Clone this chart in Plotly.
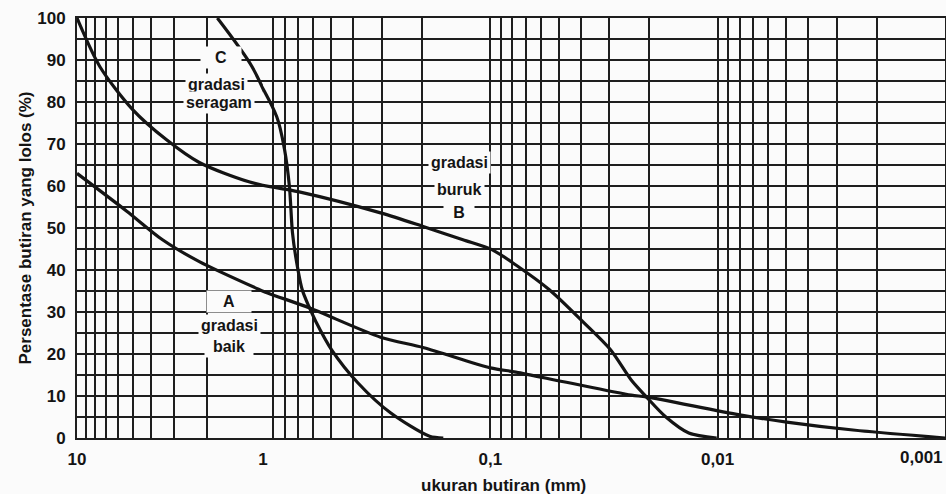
import math
import plotly.graph_objects as go

# Grain-size distribution curves: particle size (mm) vs. percent passing
size_A = [10, 5.4, 3.47, 2.20, 0.961, 0.627, 0.304, 0.196, 0.1, 0.0772, 0.0476,
          0.024, 0.0206, 0.008, 0.00497, 0.00254, 0.001]
pass_A = [63, 54, 47.2, 42, 34.6, 31, 24, 21.5, 16.7, 15.7, 13.4, 10.2, 9.8,
          5.5, 3.8, 1.9, 0]

size_B = [10, 7.53, 5.02, 3.30, 2.20, 1.19, 0.693, 0.304, 0.196, 0.132, 0.098,
          0.0772, 0.055, 0.0387, 0.0296, 0.024, 0.0206, 0.0169, 0.0134, 0.0101]
pass_B = [100, 88.4, 78.2, 71, 65.6, 61, 58.6, 53.6, 50.3, 47.2, 44.8, 41.2,
          35.3, 27.4, 21, 13.8, 9.8, 5, 1.2, 0]

size_C = [1.76, 1.145, 0.87, 0.804, 0.765, 0.742, 0.714, 0.672, 0.627, 0.585,
          0.499, 0.382, 0.275, 0.185, 0.161]
pass_C = [100, 88.4, 76.5, 68.7, 59.8, 48.9, 42.4, 35.3, 31.2, 27.7, 21, 13.1,
          6, 0.4, 0]

# Axis ticks
left_ticks = [10, 9, 8, 7, 6, 5, 4, 3, 2, 1]
left_labels = ["10"] + [""] * 9
right_ticks = ([1, 0.9, 0.8, 0.7, 0.6, 0.5, 0.4, 0.3, 0.2]
               + [0.1, 0.09, 0.08, 0.07, 0.06, 0.05, 0.04, 0.03, 0.02]
               + [0.01, 0.009, 0.008, 0.007, 0.006, 0.005, 0.004, 0.003, 0.002]
               + [0.001])
decade_labels = {1: "1", 0.1: "0,1", 0.01: "0,01"}
right_labels = [decade_labels.get(v, "") for v in right_ticks]
end_label = "0,001"   # last decade label, kept right-aligned at the edge
end_size = 0.001

# Curve labels: (text, size, percent, axis, box width)
curve_labels = [
    ("C", 1.68, 90.6, "x", 36),
    ("gradasi", 1.78, 84.2, "x", None),
    ("seragam", 1.72, 79.9, "x", None),
    ("A", 1.52, 32.4, "x", 40),
    ("gradasi", 1.52, 26.9, "x", None),
    ("baik", 1.52, 21.7, "x", 44),
    ("gradasi", 0.137, 65.6, "x2", None),
    ("buruk", 0.137, 59.1, "x2", None),
    ("B", 0.137, 53.6, "x2", 26),
]

INK = "#141414"
GRID = "#1e1e1e"
BG = "#fbfbfb"
FONT = "Liberation Sans"
tick_font = dict(family=FONT, size=17, color=INK, weight="bold")
title_font = dict(family=FONT, size=17, color=INK, weight="bold")

fig = go.Figure()
for xs, ys in [(size_A, pass_A), (size_B, pass_B), (size_C, pass_C)]:
    for xa, ya in [("x", "y"), ("x2", "y2")]:
        fig.add_trace(go.Scatter(
            x=xs, y=ys, xaxis=xa, yaxis=ya, mode="lines",
            line=dict(color=INK, width=3.2, shape="spline", smoothing=0.8),
            showlegend=False, hoverinfo="skip"))

split = (263 - 77) / 868

grid_common = dict(showgrid=True, gridcolor=GRID, gridwidth=2, zeroline=False,
                   ticks="", automargin=False, tickfont=tick_font,
                   ticklabeloverflow="allow")
y_minor = dict(dtick=5, showgrid=True, gridcolor=GRID, gridwidth=2)

fig.update_layout(
    width=946, height=494, template="none",
    paper_bgcolor=BG, plot_bgcolor=BG,
    margin=dict(l=77, r=1, t=18, b=56),
    xaxis=dict(type="log", domain=[0, split], range=[1, 0], anchor="y",
               tickvals=left_ticks, ticktext=left_labels,
               ticklabelstandoff=5, showline=True, linecolor=GRID,
               linewidth=2, mirror=True, **grid_common),
    xaxis2=dict(type="log", domain=[split, 1], range=[0, -3], anchor="y2",
                tickvals=right_ticks, ticktext=right_labels,
                ticklabelstandoff=5, showline=True, linecolor=GRID,
                linewidth=2, mirror=True, **grid_common),
    yaxis=dict(range=[0, 100], anchor="x", tickmode="linear", tick0=0,
               dtick=10, minor=y_minor, ticklabelstandoff=6,
               showline=True, linecolor=GRID, linewidth=2,
               title=dict(text="Persentase butiran yang lolos (%)", standoff=1,
                          font=title_font),
               **grid_common),
    yaxis2=dict(range=[0, 100], anchor="x2", side="right", tickmode="linear",
                tick0=0, dtick=10, minor=y_minor, showticklabels=False,
                showline=True, linecolor=GRID, linewidth=2, **grid_common),
)

for text, sx, sy, xa, w in curve_labels:
    fig.add_annotation(
        text=text, x=math.log10(sx), y=sy, xref=xa,
        yref="y" if xa == "x" else "y2", width=w,
        showarrow=False, bgcolor=BG, borderpad=2,
        font=dict(family=FONT, size=16, color=INK, weight="bold"))

# Last size label, right-aligned so it stays inside the figure
fig.add_annotation(
    text=end_label, x=math.log10(end_size), xref="x2", xanchor="right",
    y=-(457 - 438) / 420, yref="paper", yanchor="middle",
    showarrow=False, font=tick_font)

# Size-axis title, centred under the whole grid
fig.add_annotation(
    text="ukuran butiran (mm)", xref="paper", yref="paper",
    x=(503 - 77) / 868, y=-(485 - 438) / 420, xanchor="center",
    yanchor="middle", showarrow=False, font=title_font)

fig.write_html("out.html")
